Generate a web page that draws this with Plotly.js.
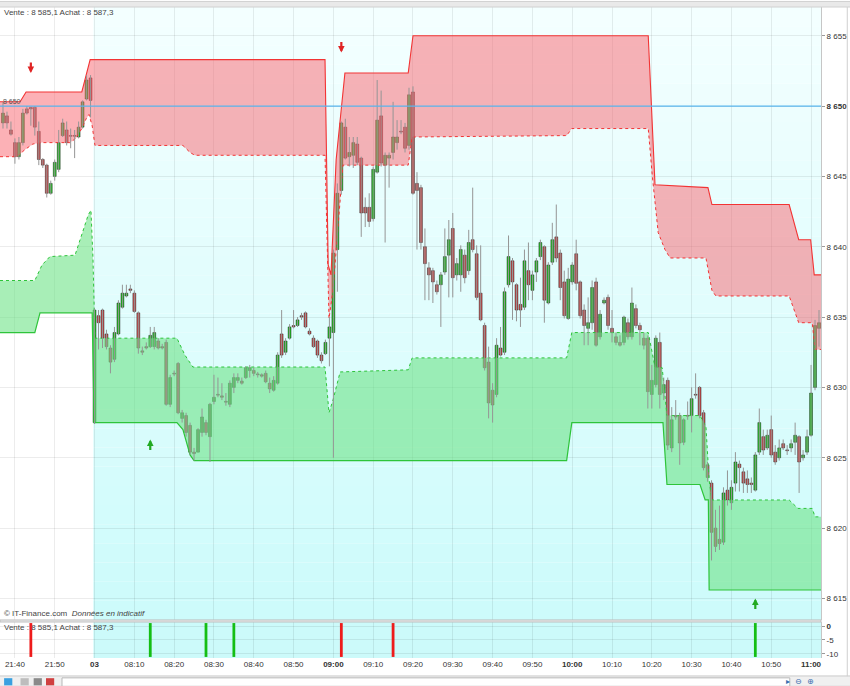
<!DOCTYPE html>
<html>
<head>
<meta charset="utf-8">
<script src="https://cdn.plot.ly/plotly-3.0.1.min.js"></script>
<style>
  html, body { margin: 0; padding: 0; background: #fff; }
  #chart { width: 850px; height: 686px; }
</style>
</head>
<body>
<div id="chart"></div>
<script>
// one candle per minute: index 0 = 21:37 (evening), index 23 = 08:00 on the 3rd
const openP = [
  8648.8, 8649.3, 8648.3, 8647.4, 8646.4, 8647.4, 8649.8, 8649.9, 8649.9, 8648.2,
  8646.2, 8645.8, 8643.8, 8645.0, 8645.5, 8647.9, 8648.3, 8647.9, 8647.9, 8647.8,
  8648.5, 8650.5, 8652.0,
  8627.5, 8635.1, 8635.5, 8633.8, 8632.8, 8632.0, 8633.8,
  8635.7, 8636.5, 8637.0, 8636.7, 8635.3, 8632.6, 8632.9, 8632.9, 8632.9, 8633.3,
  8632.9, 8633.2, 8628.8, 8631.0, 8631.7, 8627.8, 8628.0, 8627.3, 8625.4, 8625.4,
  8626.8, 8627.5, 8626.5, 8629.0, 8629.5, 8629.4, 8629.0, 8628.8, 8630.0, 8630.5,
  8630.45, 8630.7, 8631.2, 8631.2, 8630.95, 8630.9, 8631.0, 8630.3, 8629.8, 8630.3,
  8633.8, 8632.5, 8633.5, 8634.4, 8634.4, 8635.1, 8635.3, 8634.0, 8633.5, 8633.3,
  8632.3, 8632.4, 8633.5, 8633.9, 8639.8, 8644.0, 8648.5, 8646.4, 8646.5, 8647.3,
  8646.3, 8642.8, 8642.8, 8642.0, 8645.3, 8649.3, 8645.8, 8646.3, 8646.7, 8647.4,
  8648.2, 8648.5, 8647.2, 8651.0, 8644.5, 8644.2, 8640.0, 8638.5, 8638.3, 8637.3,
  8637.3, 8638.2, 8639.4, 8641.3, 8638.0, 8638.0, 8639.4, 8638.3, 8640.5, 8639.5,
  8636.7, 8634.4, 8631.8, 8629.8, 8629.5, 8632.8, 8632.5, 8637.3, 8639.0, 8637.3,
  8635.9, 8635.7, 8638.3, 8636.9, 8638.2, 8639.3, 8640.0, 8636.0, 8638.9, 8640.7,
  8639.55, 8637.5, 8634.9, 8637.5, 8639.5, 8637.5, 8635.5, 8634.2, 8634.6, 8637.5,
  8633.6, 8636.0, 8636.4, 8634.2, 8633.6, 8633.2, 8633.2, 8634.6, 8633.6, 8635.6,
  8634.4, 8633.5, 8633.5, 8629.5, 8630.2, 8633.2, 8629.6, 8630.5, 8625.7, 8628.0,
  8628.0, 8626.1, 8628.0, 8628.0, 8629.5, 8630.0, 8628.2, 8624.5, 8623.2, 8620.0,
  8619.2, 8619.0, 8622.7, 8621.8, 8623.2, 8624.55, 8624.0, 8623.5, 8623.2, 8622.7,
  8625.4, 8626.5, 8625.7, 8627.0, 8625.4, 8625.0, 8626.0, 8625.55, 8625.7, 8626.1,
  8626.5, 8625.0, 8625.4, 8626.6, 8630.0, 8634.2
];
const highP = [
  8650.3, 8649.6, 8648.9, 8647.7, 8647.8, 8649.8, 8650.0, 8649.9, 8650.0, 8648.9,
  8646.3, 8645.9, 8644.7, 8646.2, 8648.3, 8649.1, 8648.9, 8648.4, 8648.3, 8648.9,
  8650.4, 8652.2, 8652.2,
  8635.6, 8635.5, 8635.6, 8634.1, 8633.0, 8634.3, 8636.2,
  8637.3, 8637.3, 8637.3, 8636.9, 8635.4, 8632.9, 8633.2, 8634.3, 8634.3, 8633.5,
  8633.1, 8633.4, 8630.9, 8631.2, 8631.8, 8628.4, 8628.2, 8627.5, 8625.7, 8627.1,
  8628.5, 8627.7, 8628.9, 8630.9, 8630.7, 8630.3, 8629.6, 8630.5, 8631.0, 8631.0,
  8630.7, 8631.5, 8631.6, 8631.4, 8631.1, 8631.0, 8631.2, 8630.7, 8630.8, 8632.5,
  8635.5, 8633.5, 8634.5, 8635.5, 8635.0, 8635.3, 8635.4, 8634.2, 8633.7, 8633.4,
  8632.5, 8633.4, 8635.0, 8639.8, 8644.5, 8648.9, 8649.1, 8647.8, 8647.8, 8647.8,
  8646.4, 8643.5, 8643.8, 8645.7, 8651.85, 8651.1, 8646.7, 8646.7, 8650.3, 8649.0,
  8649.0, 8648.8, 8651.3, 8651.4, 8645.3, 8644.4, 8641.3, 8638.9, 8638.5, 8637.6,
  8638.2, 8641.3, 8641.9, 8642.4, 8639.2, 8640.1, 8639.8, 8641.2, 8644.2, 8640.1,
  8640.1, 8634.6, 8632.9, 8630.3, 8633.5, 8634.3, 8637.1, 8640.8, 8639.2, 8637.4,
  8637.8, 8639.8, 8640.3, 8638.3, 8639.2, 8640.5, 8640.1, 8638.9, 8641.7, 8643.0,
  8639.8, 8638.3, 8638.5, 8638.9, 8640.5, 8637.6, 8635.9, 8636.4, 8637.6, 8637.8,
  8635.5, 8636.4, 8636.6, 8635.5, 8633.9, 8633.7, 8635.1, 8634.9, 8637.1, 8635.9,
  8634.6, 8633.9, 8633.7, 8631.6, 8633.7, 8633.9, 8630.7, 8630.7, 8628.6, 8629.1,
  8628.2, 8627.8, 8629.0, 8630.0, 8631.0, 8630.1, 8628.4, 8624.7, 8623.4, 8621.3,
  8621.6, 8622.9, 8624.1, 8623.4, 8625.4, 8624.8, 8624.3, 8624.1, 8623.6, 8625.4,
  8628.5, 8627.0, 8627.0, 8628.0, 8625.9, 8626.3, 8626.3, 8625.9, 8626.3, 8627.5,
  8626.6, 8625.55, 8627.0, 8631.6, 8634.8, 8635.5
];
const lowP = [
  8648.4, 8648.4, 8647.9, 8645.9, 8646.2, 8647.2, 8649.4, 8648.6, 8647.9, 8645.8,
  8645.6, 8643.5, 8643.7, 8644.7, 8645.3, 8647.8, 8647.2, 8647.0, 8646.3, 8647.7,
  8648.4, 8650.4, 8649.2,
  8627.4, 8632.7, 8632.8, 8632.7, 8631.0, 8631.8, 8633.7,
  8635.6, 8636.4, 8636.7, 8635.3, 8632.4, 8632.3, 8632.7, 8632.8, 8632.7, 8632.7,
  8632.7, 8628.7, 8628.6, 8630.8, 8628.1, 8627.5, 8626.5, 8625.2, 8624.8, 8625.4,
  8626.5, 8626.6, 8624.7, 8628.8, 8629.3, 8629.1, 8628.7, 8628.6, 8629.6, 8630.3,
  8630.2, 8630.6, 8630.7, 8630.8, 8630.7, 8630.7, 8630.3, 8629.6, 8629.7, 8630.2,
  8632.1, 8632.3, 8633.4, 8634.2, 8634.3, 8634.8, 8634.2, 8633.7, 8632.8, 8632.1,
  8631.7, 8632.3, 8631.5, 8625.0, 8636.8, 8643.7, 8646.2, 8645.7, 8645.6, 8645.8,
  8640.7, 8641.4, 8641.4, 8641.8, 8645.2, 8645.7, 8640.3, 8644.2, 8646.2, 8646.9,
  8648.0, 8646.7, 8646.9, 8643.7, 8639.8, 8639.8, 8636.2, 8636.2, 8636.0, 8636.6,
  8634.3, 8638.0, 8636.4, 8636.4, 8637.6, 8636.8, 8637.4, 8638.0, 8639.6, 8636.2,
  8634.7, 8631.2, 8627.8, 8627.5, 8629.3, 8632.2, 8632.3, 8637.1, 8634.8, 8634.7,
  8634.3, 8635.5, 8636.2, 8636.2, 8637.5, 8639.05, 8634.6, 8635.9, 8638.7, 8638.9,
  8636.2, 8634.9, 8634.8, 8637.3, 8636.9, 8634.9, 8633.0, 8633.0, 8634.1, 8632.9,
  8633.4, 8635.9, 8634.1, 8633.2, 8633.0, 8632.9, 8633.0, 8633.4, 8633.4, 8634.2,
  8633.0, 8632.7, 8628.5, 8628.5, 8630.0, 8628.5, 8629.1, 8625.55, 8625.4, 8627.7,
  8624.5, 8625.9, 8627.7, 8626.8, 8629.2, 8627.8, 8624.1, 8623.3, 8617.7, 8618.3,
  8618.45, 8618.8, 8621.6, 8621.3, 8622.6, 8622.6, 8622.5, 8622.5, 8622.5, 8622.6,
  8625.2, 8625.2, 8625.55, 8625.0, 8624.5, 8624.8, 8625.55, 8625.2, 8625.4, 8625.2,
  8622.5, 8624.8, 8625.2, 8626.5, 8629.8, 8632.9
];
const closeP = [
  8649.5, 8648.8, 8648.0, 8646.4, 8647.4, 8649.5, 8649.5, 8649.8, 8648.5, 8646.2,
  8645.8, 8643.8, 8644.5, 8646.0, 8647.4, 8648.8, 8647.4, 8647.85, 8647.85, 8648.5,
  8650.3, 8651.85, 8650.4,
  8635.5, 8634.6, 8633.5, 8632.9, 8631.8, 8633.9, 8636.0,
  8636.7, 8636.7, 8636.9, 8635.4, 8632.8, 8632.5, 8632.8, 8633.7, 8633.9, 8632.8,
  8632.8, 8628.8, 8630.7, 8630.95, 8628.2, 8628.2, 8626.8, 8625.4, 8625.3, 8627.0,
  8627.9, 8626.8, 8628.8, 8629.3, 8629.45, 8629.3, 8628.95, 8630.3, 8630.7, 8630.7,
  8630.3, 8631.4, 8631.4, 8631.0, 8630.9, 8630.8, 8630.4, 8629.9, 8630.5, 8632.3,
  8632.3, 8633.3, 8634.3, 8634.3, 8634.8, 8635.0, 8634.3, 8633.8, 8632.9, 8632.3,
  8631.9, 8633.2, 8634.3, 8639.55, 8643.8, 8648.8, 8646.3, 8646.7, 8647.4, 8646.0,
  8642.4, 8642.4, 8641.8, 8645.5, 8649.0, 8645.95, 8646.5, 8646.5, 8647.8, 8647.8,
  8648.15, 8647.0, 8650.8, 8643.8, 8644.0, 8640.3, 8638.8, 8638.0, 8637.5, 8636.8,
  8638.0, 8639.3, 8640.5, 8637.8, 8638.8, 8639.8, 8637.8, 8640.3, 8639.8, 8636.4,
  8634.8, 8631.4, 8628.9, 8628.75, 8633.0, 8632.3, 8636.8, 8639.3, 8637.5, 8635.5,
  8635.5, 8639.0, 8637.3, 8638.0, 8639.0, 8640.3, 8636.2, 8638.7, 8640.5, 8639.2,
  8637.1, 8635.1, 8637.7, 8638.7, 8637.4, 8635.1, 8634.4, 8634.6, 8637.1, 8633.0,
  8635.2, 8636.2, 8634.4, 8633.9, 8633.2, 8633.0, 8635.0, 8633.6, 8636.0, 8634.4,
  8634.1, 8633.0, 8629.7, 8630.5, 8633.5, 8629.5, 8630.2, 8625.9, 8627.7, 8627.9,
  8626.05, 8627.7, 8627.95, 8629.2, 8629.45, 8628.0, 8624.3, 8623.6, 8619.7, 8618.7,
  8618.9, 8622.5, 8622.0, 8622.9, 8624.7, 8624.3, 8623.2, 8623.1, 8623.1, 8625.2,
  8627.5, 8625.55, 8626.6, 8625.2, 8624.7, 8625.7, 8625.7, 8625.5, 8626.0, 8626.6,
  8624.7, 8625.2, 8626.5, 8629.6, 8634.4, 8634.6
];

// resistance band (red): solid upper edge, dotted lower edge
const resUpT = [-0.75, 4.3, 5.8, 19.8, 21.9, 80.9, 81.7, 82.4, 83.7, 85.9, 101.8, 103.0, 162.1, 163.8, 177.1, 178.1, 197.5, 199.9, 202.9, 203.8, 205.5];
const resUpP = [8650.3, 8650.3, 8651.0, 8651.0, 8653.3, 8653.3, 8638.7, 8638.0, 8646.2, 8652.35, 8652.35, 8655.0, 8655.0, 8644.4, 8644.2, 8643.0, 8643.0, 8640.5, 8640.5, 8638.0, 8638.0];
const resLoT = [-0.75, 3.5, 5.5, 7.5, 9.8, 16.8, 18.3, 19.8, 20.9, 21.6, 22.4, 23.1, 45.2, 47.0, 48.2, 80.9, 81.9, 82.9, 85.4, 101.8, 102.8, 141.6, 142.9, 162.1, 163.1, 164.6, 166.3, 167.6, 176.6, 178.1, 179.1, 197.5, 199.9, 203.3, 204.0, 205.5];
const resLoP = [8646.4, 8646.4, 8646.9, 8647.3, 8647.4, 8647.4, 8647.7, 8648.4, 8649.1, 8649.4, 8648.6, 8647.2, 8647.2, 8646.7, 8646.5, 8646.5, 8634.9, 8636.9, 8645.8, 8645.8, 8647.8, 8647.9, 8648.4, 8648.4, 8645.1, 8641.0, 8639.8, 8639.2, 8639.2, 8636.9, 8636.5, 8636.5, 8634.6, 8634.6, 8632.7, 8632.7];

// support band (green): dotted upper edge, solid lower edge
const supUpT = [-0.75, 8.0, 9.8, 11.8, 18.1, 19.8, 21.4, 22.1, 22.6, 23.1, 43.7, 45.7, 47.7, 80.9, 81.9, 82.9, 84.7, 101.8, 102.8, 141.6, 142.9, 162.1, 163.8, 165.6, 166.8, 175.1, 176.6, 177.4, 178.1, 197.5, 199.7, 203.3, 204.0, 205.5];
const supUpP = [8637.6, 8637.6, 8638.7, 8639.3, 8639.4, 8640.8, 8642.25, 8642.6, 8639.2, 8633.5, 8633.5, 8632.3, 8631.45, 8631.45, 8628.2, 8629.1, 8631.1, 8631.25, 8632.1, 8632.1, 8633.9, 8633.9, 8631.45, 8631.4, 8628.0, 8628.0, 8627.2, 8623.4, 8622.0, 8622.0, 8621.4, 8621.4, 8620.8, 8620.8];
const supLoT = [-0.75, 8.0, 9.3, 22.4, 22.9, 43.7, 45.2, 47.0, 48.0, 141.6, 142.9, 165.8, 166.8, 175.1, 176.4, 177.2, 177.4, 205.5];
const supLoP = [8633.9, 8633.9, 8635.3, 8635.3, 8627.5, 8627.5, 8627.0, 8625.2, 8624.8, 8624.8, 8627.5, 8627.5, 8623.1, 8623.1, 8622.0, 8622.0, 8615.6, 8615.6];

// signals
const sellArrowIdx = [7, 85];
const sellArrowLvl = [8652.35, 8653.8];
const buyArrowIdx = [37, 189];
const buyArrowLvl = [8626.3, 8615.0];
const histSellIdx = [7, 85, 98];
const histBuyIdx = [37, 51, 58, 189];
const histTop = 1.1;
const histBottom = -11.1;

const refLevel = 8650;
const sessionStart = 22.7;

const timeTickIdx = [3, 13, 23, 33, 43, 53, 63, 73, 83, 93, 103, 113, 123, 133, 143, 153, 163, 173, 183, 193, 203];
const timeTickText = ['21:40', '21:50', '<b>03</b>', '08:10', '08:20', '08:30', '08:40', '08:50', '<b>09:00</b>',
  '09:10', '09:20', '09:30', '09:40', '09:50', '<b>10:00</b>', '10:10', '10:20', '10:30', '10:40', '10:50', '<b>11:00</b>'];
const priceTicks = [8615, 8620, 8625, 8630, 8635, 8640, 8645, 8650, 8655];
const priceTickText = ['8 615', '8 620', '8 625', '8 630', '8 635', '8 640', '8 645', '<b>8 650</b>', '8 655'];
const histTicks = [0, -5, -10];
const histTickText = ['<b>0</b>', '-5', '-10'];

const quote = 'Vente : 8 585,1 Achat : 8 587,3';

// --- build traces ---
const idx = openP.map((_, i) => i);
const wickX = [], wickY = [];
idx.forEach(i => { wickX.push(i, i, null); wickY.push(lowP[i], highP[i], null); });
const bodyBase = idx.map(i => Math.min(openP[i], closeP[i]));
const bodyLen = idx.map(i => Math.max(Math.abs(closeP[i] - openP[i]), 0.06));
const bodyCol = idx.map(i => closeP[i] >= openP[i] ? '#14c414' : '#d04444');

const RED = '#f23434', GREEN = '#2ec43a';
const traces = [
  { x: resLoT, y: resLoP, type: 'scatter', mode: 'lines', line: { color: RED, width: 1, dash: 'dot' }, xaxis: 'x', yaxis: 'y' },
  { x: resUpT, y: resUpP, type: 'scatter', mode: 'lines', line: { color: RED, width: 1.1 }, fill: 'tonexty', fillcolor: 'rgba(250,100,110,0.5)', xaxis: 'x', yaxis: 'y' },
  { x: supLoT, y: supLoP, type: 'scatter', mode: 'lines', line: { color: GREEN, width: 1.2 }, xaxis: 'x', yaxis: 'y' },
  { x: supUpT, y: supUpP, type: 'scatter', mode: 'lines', line: { color: GREEN, width: 1, dash: 'dot' }, fill: 'tonexty', fillcolor: 'rgba(110,226,135,0.6)', xaxis: 'x', yaxis: 'y' },
  { x: wickX, y: wickY, type: 'scatter', mode: 'lines', line: { color: '#959595', width: 1 }, xaxis: 'x', yaxis: 'y' },
  { x: idx, y: bodyLen, base: bodyBase, type: 'bar', width: 0.72,
    marker: { color: bodyCol, line: { color: '#202020', width: 0.5 } }, xaxis: 'x', yaxis: 'y' },
  { x: histSellIdx, y: histSellIdx.map(() => histBottom - histTop), base: histTop, type: 'bar', width: 0.7,
    marker: { color: '#ee1b1b', line: { width: 0 } }, xaxis: 'x', yaxis: 'y2' },
  { x: histBuyIdx, y: histBuyIdx.map(() => histBottom - histTop), base: histTop, type: 'bar', width: 0.7,
    marker: { color: '#14be14', line: { width: 0 } }, xaxis: 'x', yaxis: 'y2' }
];

// --- backgrounds, frames ---
const mainBottom = 0.0584, lowTop = 0.0553;
const xMax = 205.5;
const shapes = [];
const nStripes = 32;
for (let k = 0; k < nStripes; k++) {
  const f = (k + 0.5) / nStripes;
  const r = Math.round(204 + 40 * f), gb = Math.round(251 + 4 * f);
  shapes.push({ type: 'rect', xref: 'x', yref: 'paper', x0: sessionStart, x1: xMax,
    y0: mainBottom + (1 - mainBottom) * k / nStripes, y1: mainBottom + (1 - mainBottom) * (k + 1) / nStripes,
    fillcolor: `rgb(${r},${gb},${gb})`, line: { width: 0 }, layer: 'below' });
}
shapes.push({ type: 'rect', xref: 'x', yref: 'paper', x0: sessionStart, x1: xMax, y0: 0, y1: lowTop,
  fillcolor: 'rgb(204,250,250)', line: { width: 0 }, layer: 'below' });
shapes.push({ type: 'line', xref: 'paper', yref: 'y', x0: 0, x1: 1, y0: refLevel, y1: refLevel,
  line: { color: '#5ab6ee', width: 1.3 }, layer: 'above' });
// panel separator
shapes.push({ type: 'rect', xref: 'paper', yref: 'paper', x0: 0, x1: 1.0, y0: lowTop, y1: mainBottom,
  fillcolor: '#eeeeee', line: { color: '#bdbdbd', width: 1 } });
// top bar
shapes.push({ type: 'rect', xref: 'paper', yref: 'paper', x0: -0.01, x1: 1.04, y0: 1.0, y1: 1.0085,
  fillcolor: '#e9e9e9', line: { color: '#d0d0d0', width: 1 } });
// bottom toolbar
shapes.push({ type: 'rect', xref: 'paper', yref: 'paper', x0: -0.01, x1: 1.04, y0: -0.0435, y1: -0.0276,
  fillcolor: '#f0f0f0', line: { color: '#cacaca', width: 1 } });
shapes.push({ type: 'rect', xref: 'paper', yref: 'paper', x0: 0.0755, x1: 0.962, y0: -0.0435, y1: -0.0305,
  fillcolor: '#ffffff', line: { color: '#b8b8b8', width: 1 } });
[[0.005, '#3aa0e0'], [0.025, '#bdbdbd'], [0.041, '#8a8a8a'], [0.056, '#d04040']].forEach(([x0, c]) => {
  shapes.push({ type: 'rect', xref: 'paper', yref: 'paper', x0: x0, x1: x0 + 0.01, y0: -0.042, y1: -0.031,
    fillcolor: c, line: { width: 0 } });
});
// right border
shapes.push({ type: 'line', xref: 'paper', yref: 'paper', x0: 1.032, x1: 1.032, y0: -0.028, y1: 1.0,
  line: { color: '#cfcfcf', width: 1 } });

const smallFont = { family: '"Liberation Sans Narrow", "Arial Narrow", "Liberation Sans", Arial, sans-serif', size: 8, color: '#444' };
const annotations = [
  { xref: 'paper', yref: 'paper', x: 0.002, y: 0.9908, xanchor: 'left', yanchor: 'middle', text: quote, showarrow: false, font: smallFont },
  { xref: 'paper', yref: 'paper', x: 0.002, y: 0.0476, xanchor: 'left', yanchor: 'middle', text: quote, showarrow: false, font: smallFont },
  { xref: 'paper', yref: 'paper', x: 0.002, y: 0.0676, xanchor: 'left', yanchor: 'middle',
    text: '© IT-Finance.com  <i>Données en indicatif</i>', showarrow: false, font: smallFont },
  { xref: 'paper', yref: 'y', x: 0.001, y: refLevel + 0.35, xanchor: 'left', yanchor: 'middle', text: '8 650', showarrow: false,
    font: { family: smallFont.family, size: 7, color: '#555' } },
  { xref: 'paper', yref: 'paper', x: 0.975, y: -0.036, xanchor: 'center', yanchor: 'middle', text: '▸  ⊖  ⊕', showarrow: false,
    font: { family: 'DejaVu Sans', size: 8, color: '#3a6fb0' } }
];
sellArrowIdx.forEach((x, k) => annotations.push({ xref: 'x', yref: 'y', x: x, y: sellArrowLvl[k], ax: 0, ay: -12,
  text: '', showarrow: true, arrowhead: 2, arrowsize: 0.6, arrowwidth: 2.2, arrowcolor: '#e02424', standoff: 0 }));
buyArrowIdx.forEach((x, k) => annotations.push({ xref: 'x', yref: 'y', x: x, y: buyArrowLvl[k], ax: 0, ay: 12,
  text: '', showarrow: true, arrowhead: 2, arrowsize: 0.6, arrowwidth: 2.2, arrowcolor: '#22aa22', standoff: 0 }));

const tickFont = { family: smallFont.family, size: 8, color: '#333' };
const gridCol = 'rgba(0,0,0,0.075)';
const layout = {
  width: 850, height: 686,
  margin: { l: 0, r: 29, t: 7, b: 28 },
  paper_bgcolor: '#ffffff', plot_bgcolor: '#ffffff',
  showlegend: false, hovermode: false, barmode: 'overlay',
  xaxis: { range: [-0.75, xMax], anchor: 'y2', tickvals: timeTickIdx, ticktext: timeTickText, tickfont: tickFont,
    showgrid: true, gridcolor: gridCol, zeroline: false, ticks: '', showline: false, fixedrange: true },
  yaxis: { domain: [mainBottom, 1], range: [8613.47, 8657.04], side: 'right', anchor: 'x',
    tickvals: priceTicks, ticktext: priceTickText, tickfont: tickFont,
    showgrid: true, gridcolor: gridCol, zeroline: false, showline: true, linecolor: '#c6c6c6',
    ticks: 'outside', ticklen: 3, tickcolor: '#9a9a9a' },
  yaxis2: { domain: [0, lowTop], range: [-11.48, 1.48], side: 'right', anchor: 'x',
    tickvals: histTicks, ticktext: histTickText, tickfont: tickFont,
    showgrid: true, gridcolor: gridCol, zeroline: false, showline: true, linecolor: '#c6c6c6',
    ticks: 'outside', ticklen: 3, tickcolor: '#9a9a9a' },
  shapes: shapes,
  annotations: annotations
};

Plotly.newPlot('chart', traces, layout, { staticPlot: true, displayModeBar: false });
</script>
</body>
</html>
